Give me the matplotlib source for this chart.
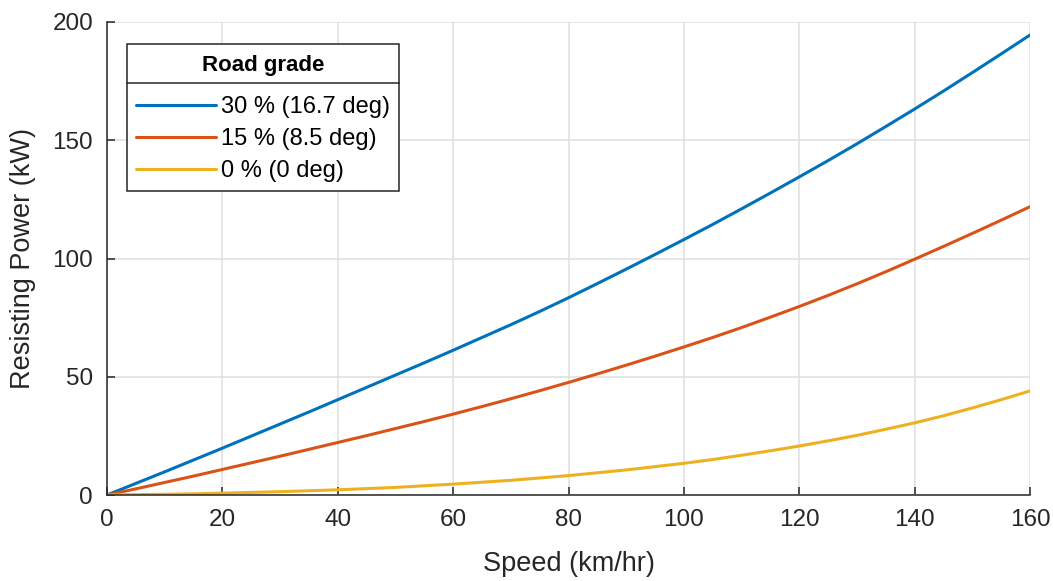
import matplotlib
matplotlib.use("Agg")
import matplotlib.pyplot as plt
from matplotlib.lines import Line2D

plt.rcParams['font.family'] = ['Liberation Sans', 'DejaVu Sans']

speed = [0, 5, 10, 15, 20, 25, 30, 35, 40, 45, 50, 55, 60, 65, 70, 75, 80,
         85, 90, 95, 100, 105, 110, 115, 120, 125, 130, 135, 140, 145, 150, 155, 160]
p30 = [0, 4.9, 9.8, 14.8, 19.8, 24.9, 30.0, 35.1, 40.3, 45.5, 50.7, 55.9, 61.2, 66.6, 72.0, 77.6, 83.4,
       89.4, 95.5, 101.7, 108.0, 114.4, 121.0, 127.7, 134.5, 141.4, 148.5, 155.8, 163.2, 170.8, 178.6, 186.5, 194.5]
p15 = [0, 2.6, 5.3, 8.0, 10.8, 13.6, 16.4, 19.3, 22.2, 25.1, 28.1, 31.1, 34.2, 37.4, 40.7, 44.1, 47.6,
       51.2, 54.9, 58.7, 62.6, 66.6, 70.8, 75.2, 79.7, 84.4, 89.3, 94.4, 99.7, 105.1, 110.6, 116.2, 121.9]
p0 = [0, 0.15, 0.3, 0.5, 0.8, 1.1, 1.4, 1.8, 2.2, 2.7, 3.2, 3.9, 4.6, 5.4, 6.2, 7.2, 8.2,
      9.4, 10.6, 12.0, 13.4, 15.0, 16.8, 18.7, 20.7, 22.9, 25.2, 27.8, 30.5, 33.5, 36.8, 40.3, 44.0]
labels = ['30 % (16.7 deg)', '15 % (8.5 deg)', '0 % (0 deg)']
colors = ['#0072BD', '#D95319', '#EDB120']
xticks = [0, 20, 40, 60, 80, 100, 120, 140, 160]
yticks = [0, 50, 100, 150, 200]

W, H = 1053, 581
fig = plt.figure(figsize=(W / 100, H / 100), dpi=100)
L, R, T, B = 107, 1030, 22, 495
ax = fig.add_axes([L / W, (H - B) / H, (R - L) / W, (B - T) / H])

for ys, lab, c in zip([p30, p15, p0], labels, colors):
    ax.plot(speed, ys, color=c, lw=2.2, label=lab, solid_capstyle='round')

ax.set_xlim(0, 160)
ax.set_ylim(0, 200)
ax.set_xticks(xticks)
ax.set_yticks(yticks)
ax.grid(True, color='#dfdfdf', lw=1.1)
ax.set_axisbelow(True)
for s in ['top', 'right']:
    ax.spines[s].set_visible(False)
for s in ['left', 'bottom']:
    ax.spines[s].set_color('#262626')
    ax.spines[s].set_linewidth(1.1)
ax.tick_params(direction='in', length=6, width=1.1, color='#262626',
               labelsize=17.5, labelcolor='#262626', pad=10)
ax.set_xlabel('Speed (km/hr)', fontsize=19.5, color='#262626')
ax.set_ylabel('Resisting Power (kW)', fontsize=19.5, color='#262626')
ax.xaxis.set_label_coords(0.5, -0.118)
ax.yaxis.set_label_coords(-0.077, 0.5)

leg = ax.legend(title='Road grade', loc='upper left',
                bbox_to_anchor=((127 - L) / (R - L), 1 - (44 - T) / (B - T)),
                borderaxespad=0, fancybox=False, framealpha=1,
                edgecolor='#262626', fontsize=17, handlelength=3.4,
                handletextpad=0.2, labelspacing=0.42, borderpad=0.15,
                title_fontproperties={'weight': 'bold', 'size': 16})
leg.get_frame().set_linewidth(1.1)
leg._legend_box.sep = 16
leg._legend_handle_box.pad = 4
leg.get_title().set_y(-7.5)

fig.canvas.draw()
bb = leg.get_window_extent()
ysep = bb.y1 - 39
inv = fig.transFigure.inverted()
x0, y0 = inv.transform((bb.x0, ysep))
x1, _ = inv.transform((bb.x1, ysep))
fig.add_artist(Line2D([x0, x1], [y0, y0], transform=fig.transFigure,
                      color='#262626', lw=1.1, zorder=10))

fig.savefig('out.png', dpi=100)
